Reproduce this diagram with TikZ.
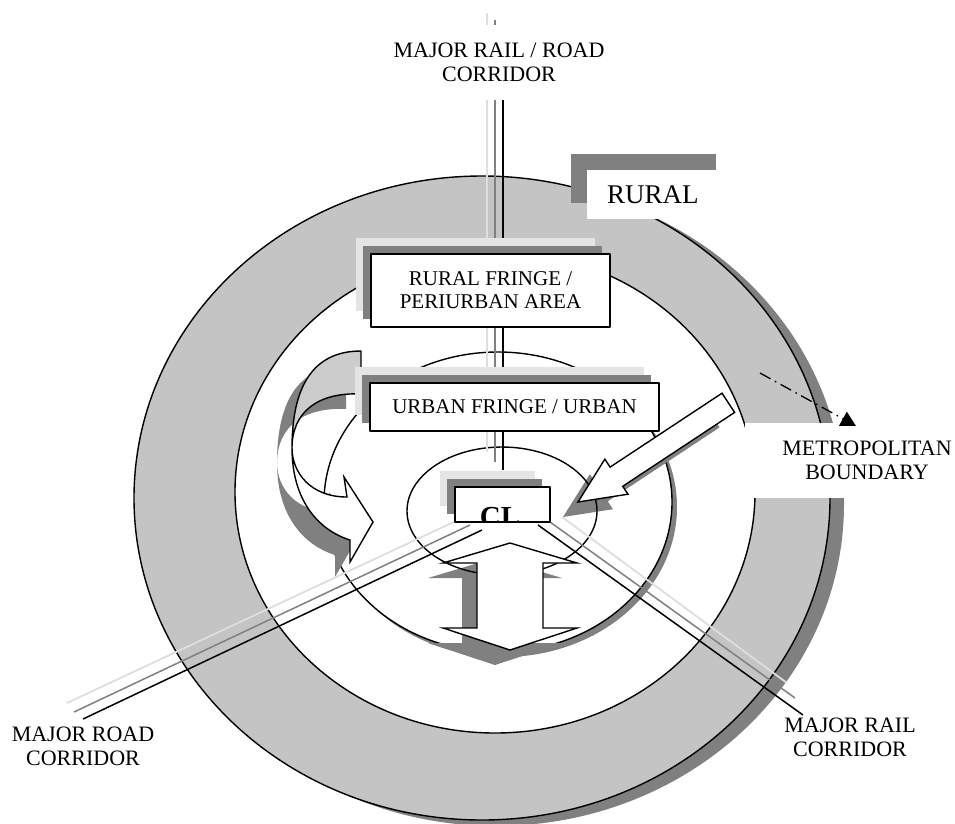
\documentclass[tikz,border=0pt]{standalone}
\usepackage{fontspec}
\setmainfont{Liberation Serif}
\usetikzlibrary{arrows.meta,shadows}
\definecolor{ringfill}{RGB}{196,196,196}
\definecolor{midshade}{RGB}{128,128,128}
\definecolor{paleshade}{RGB}{228,228,228}
\definecolor{backfill}{RGB}{204,204,204}
\definecolor{palecorr}{RGB}{222,222,222}
\newcommand{\zonefont}{\fontsize{21}{23}\selectfont}
\newcommand{\corrfont}{\fontsize{22}{24}\selectfont}
\tikzset{
  outline/.style={draw=black, line width=1.4pt},
  zonebox/.style={draw=black, line width=1.7pt, fill=white, inner sep=0pt, align=center, font=\zonefont,
    general shadow={fill=paleshade, shadow xshift=-15pt, shadow yshift=16pt},
    general shadow={fill=midshade, shadow xshift=-8pt, shadow yshift=8pt}},
  ruralbox/.style={fill=white, inner ysep=0pt, inner xsep=20pt, text width=105pt, align=left,
    minimum height=49pt, font=\fontsize{27}{29}\selectfont,
    general shadow={fill=midshade, shadow xshift=-16pt, shadow yshift=16pt}},
  corrlabel/.style={align=center, font=\corrfont, inner sep=0pt},
  blockarrow/.style={outline, fill=white, line join=miter},
  corrlight/.style={draw=palecorr, line width=1.8pt},
  corrmid/.style={draw=midshade, line width=1.5pt},
  corrdark/.style={draw=black, line width=1.5pt},
  bndline/.style={draw=black, line width=1.3pt, dash pattern=on 12pt off 5pt on 1.5pt off 5pt,
    -{Triangle[length=15pt,width=16pt]}}
}
\begin{document}
\begin{tikzpicture}[x=1pt, y=-1pt, line join=round]
\useasboundingbox (0,0) rectangle (955,823);

% metropolitan ring
\fill[midshade] (496,504) ellipse [x radius=348pt, y radius=322pt];
\draw[outline, fill=ringfill] (482,498) ellipse [x radius=348pt, y radius=322pt];
\draw[outline, fill=white] (495,492) ellipse [x radius=260pt, y radius=241pt];

\node[ruralbox] (rural) at (659.5,194.5) {RURAL};

% urban ellipse
\fill[midshade] (503,507) ellipse [x radius=174pt, y radius=150pt];
\draw[outline, fill=white] (498,502) ellipse [x radius=174pt, y radius=150pt];

% shadows of the flow arrows
\begin{scope}[shift={(-15,15)}]
  \fill[midshade] (361,351) .. controls (312,351) and (292,388) .. (292,448)
    .. controls (292,412) and (318,392) .. (361,394) -- cycle;
  \fill[midshade] (292,448) .. controls (292,500) and (318,530) .. (350,540)
    -- (350,562) -- (373,522) -- (344,477) -- (347,497)
    .. controls (310,497) and (292,472) .. (292,448) -- cycle;
  \fill[midshade] (578,502) -- (604.8,459.2) -- (610.1,467.1) -- (722,393.2)
    -- (734.6,412.4) -- (622.7,486.3) -- (628,494.2) -- cycle;
  \fill[midshade] (510,543) -- (577,563) -- (543,563) -- (543,628) -- (577,628)
    -- (510,650) -- (443,628) -- (477,628) -- (477,563) -- (443,563) -- cycle;
\end{scope}

% city ellipse
\draw[outline] (502,511) ellipse [x radius=95pt, y radius=64pt];

% corridors
\coordinate (railtopA) at (487,13);  \coordinate (railbotA) at (487,452);
\coordinate (railtopB) at (495,20);  \coordinate (railbotB) at (495,462);
\coordinate (railtopC) at (503,25);  \coordinate (railbotC) at (503,470);
\coordinate (roadinA) at (458,520);  \coordinate (roadoutA) at (67,703);
\coordinate (roadinB) at (470,525);  \coordinate (roadoutB) at (74,712);
\coordinate (roadinC) at (482,530);  \coordinate (roadoutC) at (83,719);
\coordinate (railinA) at (562,517);  \coordinate (railoutA) at (787,683);
\coordinate (railinB) at (550,522);  \coordinate (railoutB) at (795,698);
\coordinate (railinC) at (538,525);  \coordinate (railoutC) at (803,715);
\draw[corrlight] (railtopA) -- (railbotA);
\draw[corrmid] (railtopB) -- (railbotB);
\draw[corrdark] (railtopC) -- (railbotC);
\draw[corrlight] (roadinA) -- (roadoutA);
\draw[corrmid] (roadinB) -- (roadoutB);
\draw[corrdark] (roadinC) -- (roadoutC);
\draw[corrlight] (railinA) -- (railoutA);
\draw[corrmid] (railinB) -- (railoutB);
\draw[corrdark] (railinC) -- (railoutC);

% flow arrows
\draw[outline, fill=backfill] (361,351) .. controls (312,351) and (292,388) .. (292,448)
  .. controls (292,412) and (318,392) .. (361,394) -- cycle;
\draw[blockarrow] (292,448) .. controls (292,500) and (318,530) .. (350,540)
  -- (350,562) -- (373,522) -- (344,477) -- (347,497)
  .. controls (310,497) and (292,472) .. (292,448) -- cycle;
\draw[blockarrow] (578,502) -- (604.8,459.2) -- (610.1,467.1) -- (722,393.2)
  -- (734.6,412.4) -- (622.7,486.3) -- (628,494.2) -- cycle;
\draw[blockarrow] (510,543) -- (577,563) -- (543,563) -- (543,628) -- (577,628)
  -- (510,650) -- (443,628) -- (477,628) -- (477,563) -- (443,563) -- cycle;

% zone boxes
\node[zonebox, minimum width=239pt, minimum height=73pt] (fringe) at (490.5,290.5)
  {RURAL FRINGE /\\PERIURBAN AREA};
\node[zonebox, minimum width=289pt, minimum height=48pt] (urban) at (514.5,407)
  {URBAN FRINGE / URBAN};
\node[zonebox, minimum width=95pt, minimum height=35pt] (clbox) at (502.5,504.5) {};
\begin{scope}
  \clip ([shift={(1pt,-1pt)}]clbox.north west) rectangle ([shift={(-1pt,1pt)}]clbox.south east);
  \node[anchor=base, inner sep=0pt, font=\fontsize{29}{29}\selectfont\bfseries] (cltext) at (500,526) {CL};
\end{scope}

% labels
\node[corrlabel, fill=white, minimum width=230pt, minimum height=75pt] (toplabel) at (499,62)
  {MAJOR RAIL / ROAD\\CORRIDOR};
\node[corrlabel] (roadlabel) at (83,746) {MAJOR ROAD\\CORRIDOR};
\node[corrlabel] (raillabel) at (850,737) {MAJOR RAIL\\CORRIDOR};
\node[corrlabel, fill=white, minimum width=244pt, minimum height=75pt] (metrolabel) at (867,460.5)
  {METROPOLITAN\\BOUNDARY};
\coordinate (bndstart) at (760,373);
\coordinate (bndtip) at (856,426);
\draw[bndline] (bndstart) -- (bndtip);
\end{tikzpicture}
\end{document}
